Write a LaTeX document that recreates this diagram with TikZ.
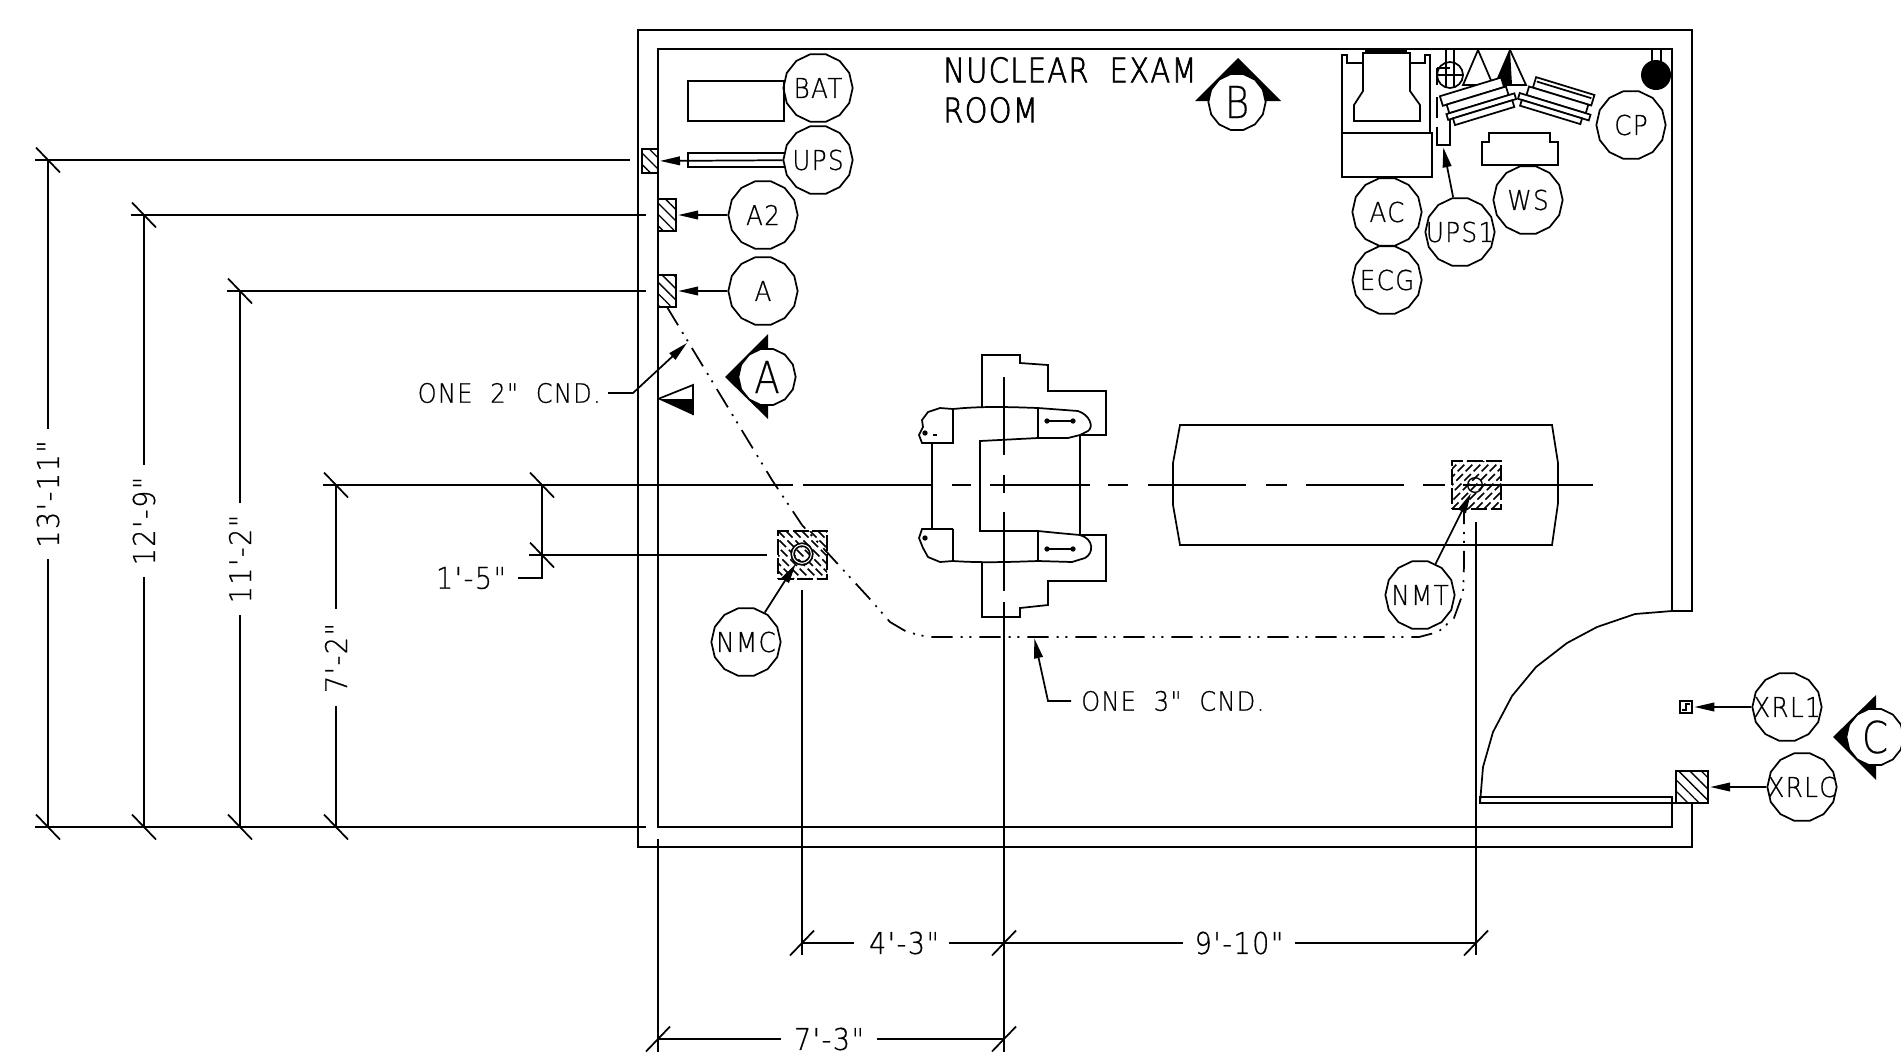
\documentclass[tikz,border=0pt]{standalone}
\usepackage{fontspec}
\usetikzlibrary{arrows.meta,patterns.meta,shapes.geometric}
\newfontfamily\cad{DejaVu Sans}[UprightFont=* ExtraLight,FakeStretch=0.9,FakeBold=0.6,LetterSpace=5]
\newfontfamily\cadsec{DejaVu Sans}[UprightFont=* ExtraLight,FakeStretch=0.85,FakeBold=0.3]
\newfontfamily\ttl{DejaVu Sans}[UprightFont=* ExtraLight,FakeStretch=0.85,FakeBold=2,LetterSpace=4]
\newcommand{\tg}[1]{\makebox[0pt][c]{\cad\fontsize{20.5}{20.5}\selectfont #1}}
\newcommand{\sct}[1]{\makebox[0pt][c]{\cadsec\fontsize{33}{33}\selectfont #1}}
\tikzset{
  x=0.75pt,y=-0.75pt,
  ln/.style={line width=1.3pt,line join=miter},
  tag/.style={regular polygon,regular polygon sides=14,draw,ln,minimum size=52pt,inner sep=0pt},
  sec/.style={regular polygon,regular polygon sides=14,draw,ln,fill=white,minimum size=43pt,inner sep=0pt},
  arr/.style={ln,-{Triangle[length=15pt,width=6.5pt]},shorten >=1pt},
  hbox/.style={draw,ln,inner sep=0pt,pattern={Lines[angle=-45,distance=6pt,line width=1pt]}},
  dbox/.style={draw,ln,inner sep=0pt,dash pattern=on 12pt off 2.5pt,minimum width=37pt,minimum height=36pt},
  hdash/.style={line width=1.1pt,dash pattern=on 7pt off 3pt},
  cond/.style={ln,dash pattern=on 16pt off 6pt on 1.5pt off 5pt on 1.5pt off 6pt},
  dimtext/.style={inner sep=0pt,font=\cad\fontsize{22.5}{22.5}\selectfont},
  notetext/.style={inner sep=0pt,font=\cad\fontsize{20}{20}\selectfont},
  titletext/.style={inner sep=0pt,anchor=west,font=\ttl\fontsize{25.5}{25.5}\selectfont},
  blob/.style={circle,fill,inner sep=0pt,minimum size=4pt},
}
\begin{document}
\begin{tikzpicture}
\useasboundingbox (0,0) rectangle (1901,1061);
% walls
\draw[ln] (1692,803) -- (1692,847) -- (638,847) -- (638,30) -- (1692,30) -- (1692,611) -- (1672,611) -- (1672,49) -- (658,49) -- (658,827) -- (1672,827) -- (1672,797) -- (1480,797) -- (1480,803) -- (1676,803);
% door
\draw[ln] (1480,803) -- (1483,767) -- (1493,732) -- (1512,696) -- (1536,667) -- (1567,643) -- (1597,627) -- (1635,614) -- (1672,611);
% dimension extension lines
\draw[ln] (35,160) -- (630,160);
\draw[ln] (131,215) -- (646,215);
\draw[ln] (227,291) -- (646,291);
\draw[ln] (35,827) -- (646,827);
\draw[ln] (529,555) -- (767,555);
\draw[ln] (323,485) -- (793,485) (803,485) -- (932,485);
\foreach \a/\b in {952/971,990/1090,1108/1128,1148/1246,1266/1287,1306/1404,1423/1445,1463/1593}
  \draw[ln] (\a,485) -- (\b,485);
\draw[ln] (658,839) -- (658,1052);
\draw[ln] (802,590) -- (802,955);
\draw[ln] (1476,522) -- (1476,955);
\draw[ln] (1004,377) -- (1004,455) (1004,475) -- (1004,493) (1004,512) -- (1004,591) (1004,602) -- (1004,1052);
% dimension lines left
\draw[ln] (48,160) -- (48,429) (48,559) -- (48,827);
\draw[ln] (144,215) -- (144,465) (144,577) -- (144,827);
\draw[ln] (240,291) -- (240,503) (240,615) -- (240,827);
\draw[ln] (336,485) -- (336,609) (336,706) -- (336,827);
\draw[ln] (542,485) -- (542,578) -- (518,578);
\foreach \p/\q in {48/160,48/827,144/215,144/827,240/291,240/827,336/485,336/827,542/485,542/555}
  \draw[ln] ({\p-12},{\q-12.5}) -- ({\p+12},{\q+12.5});
% dimension lines bottom
\draw[ln] (802,943) -- (854,943) (949,943) -- (1183,943) (1295,943) -- (1476,943);
\draw[ln] (658,1039) -- (781,1039) (877,1039) -- (1004,1039);
\foreach \p/\q in {802/943,1004/943,1476/943,658/1039,1004/1039}
  \draw[ln] ({\p-12},{\q+12.5}) -- ({\p+12},{\q-12.5});
% dimension texts
\node[dimtext,rotate=90] (d1) at (48,494) {13'-11"};
\node[dimtext,rotate=90] (d2) at (144,521) {12'-9"};
\node[dimtext,rotate=90] (d3) at (240,559) {11'-2"};
\node[dimtext,rotate=90] (d4) at (336,658) {7'-2"};
\node[dimtext] (d5) at (471,578) {1'-5"};
\node[dimtext] (d6) at (904,943) {4'-3"};
\node[dimtext] (d7) at (1239,943) {9'-10"};
\node[dimtext] (d8) at (829,1039) {7'-3"};
% title
\node[titletext] (t1) at (943,70) {NUCLEAR\ \ EXAM};
\node[titletext] (t2) at (943,110) {ROOM};
% notes
\node[notetext,anchor=east] (n2) at (601,393) {ONE\ \ 2"\ \ CND.};
\node[notetext,anchor=west] (n3) at (1081,701) {ONE\ \ 3"\ \ CND.};
\coordinate (tip2) at (688,342);
\coordinate (elb2) at (633,393);
\coordinate (lan2) at (608,393);
\coordinate (tip3) at (1034,637);
\coordinate (elb3) at (1048,701);
\coordinate (lan3) at (1071,701);
\draw[arr] (lan2) -- (elb2) -- (tip2);
\draw[arr] (lan3) -- (elb3) -- (tip3);
% conduit
\draw[cond] (667,307) -- (772,480) -- (802,525) -- (869,598) -- (890,622) -- (907,632) -- (928,637) -- (1419,637) -- (1438,632) -- (1454,618) -- (1463,593) -- (1464,565) -- (1464,505);
% c-arm
\draw[ln] (982,407) -- (982,355) -- (1020,355) -- (1020,363) -- (1048,365) -- (1048,391) -- (1106,391) -- (1106,435) -- (1080,435);
\draw[ln] (1080,535) -- (1106,535) -- (1106,581) -- (1048,581) -- (1048,605) -- (1020,608) -- (1020,617) -- (982,617) -- (982,563);
\draw[ln] (932,443) -- (932,529);
\draw[ln] (1080,435) -- (1080,535);
\draw[ln] (1038,438) -- (980,441) -- (980,531) -- (1038,531);
\draw[ln] (953,409) .. controls (982,406) and (1010,407) .. (1038,408) -- (1078,411) .. controls (1090,415) and (1094,427) .. (1088,431) -- (1080,435) -- (1068,438) -- (1038,438) -- (1038,408);
\draw[ln] (953,409) -- (953,443) -- (922,443) -- (919,435) -- (923,427) -- (922,420) -- (928,412) -- (940,408) -- (953,409);
\draw[ln] (1038,531) -- (1058,533) -- (1080,535) .. controls (1094,539) and (1094,553) .. (1085,558) -- (1072,562) -- (1038,561) -- (1038,531);
\draw[ln] (953,561) .. controls (982,563) and (1010,562) .. (1038,561);
\draw[ln] (953,529) -- (922,529) -- (919,538) -- (923,548) -- (928,557) -- (940,562) -- (953,561) -- (953,529);
\draw[ln] (1047,421) -- (1073,421);
\draw[ln] (1047,549) -- (1073,549);
\foreach \p/\q in {1047/421,1073/421,1047/549,1073/549,925/433,925/538}
  \node[blob] at (\p,\q) {};
\draw[ln] (933,435) -- (937,435);
% table
\draw[ln] (1180,425) -- (1552,425) -- (1558,463) -- (1558,503) -- (1552,545) -- (1180,545) -- (1173,505) -- (1173,463) -- cycle;
% left equipment
\draw[ln] (688,81) rectangle (784,121);
\draw[ln] (784,153) -- (688,153) -- (688,167) -- (784,167);
% right equipment: machine
\draw[ln] (1342,133) -- (1342,55) -- (1347,55) -- (1347,63) -- (1363,63);
\draw[ln] (1410,63) -- (1425,63) -- (1425,55) -- (1430,55) -- (1430,133);
\draw[ln] (1363,53) -- (1363,91) -- (1354,105) -- (1354,121) -- (1420,121) -- (1420,105) -- (1410,91) -- (1410,53) -- cycle;
\draw[line width=2.5pt] (1365,52) -- (1407,52);
\draw[ln] (1342,133) rectangle (1432,177);
% UPS1 unit
\draw[ln] (1446,49) -- (1446,88) (1454,49) -- (1454,88);
\draw[ln] (1450,75) circle (13);
\draw[ln] (1437,75) -- (1463,75);
\draw[ln] (1437,68) -- (1437,85) (1437,97) -- (1437,118) (1437,127) -- (1437,145) -- (1450,145) -- (1450,97);
\draw[ln] (1437,68) -- (1450,68);
\coordinate (ups1t) at (1443,146);
% triangles
\draw[ln] (1478,50) -- (1463,85) -- (1493,85) -- cycle;
\fill (1510,50) -- (1495,85) -- (1512,85) -- cycle;
\draw[ln] (1510,50) -- (1495,85) -- (1526,85) -- cycle;
% work stations
\begin{scope}[shift={(1479,101)},rotate=17]
\draw[ln,fill=white] (-36,-16) rectangle (28,-6);
\draw[ln,fill=white] (-32,-6) rectangle (30,3);
\draw[ln,fill=white] (-35,3) rectangle (36,9);
\draw[ln,fill=white] (-30,9) rectangle (32,16);
\end{scope}
\begin{scope}[shift={(1556,101)},rotate=-17]
\draw[ln,fill=white] (-26,-17) rectangle (35,-6);
\draw[ln] (-24,-13) -- (33,-13);
\draw[ln,fill=white] (-30,-6) rectangle (32,3);
\draw[ln,fill=white] (-37,3) rectangle (37,9);
\draw[ln,fill=white] (-33,9) rectangle (30,15);
\end{scope}
\draw[ln] (1482,165) -- (1482,142) -- (1489,142) -- (1489,133) -- (1550,133) -- (1550,142) -- (1558,142) -- (1558,165) -- cycle;
% black dot
\draw[ln] (1652,49) -- (1652,65) (1661,49) -- (1661,65);
\fill (1656,75) circle (15);
% hatched boxes
\node[hbox,minimum width=12pt,minimum height=18pt] (bUPS) at (650,161) {};
\node[hbox,minimum width=13.5pt,minimum height=24pt] (bA2) at (667,215) {};
\node[hbox,minimum width=13.5pt,minimum height=24pt] (bA) at (667,291) {};
\node[hbox,minimum width=24pt,minimum height=24pt] (bXRLC) at (1692,787) {};
\node[draw,fill=white,line width=1.5pt,inner sep=0pt,minimum width=9pt,minimum height=8.5pt] (bXRL1) at (1686,707) {};
\draw[line width=1.1pt] (1690,704) -- (1686,704) -- (1686,710) -- (1682,710);
% dashed hatch floor boxes
\begin{scope}
\clip (778,531) rectangle (827,579);
\foreach \s in {-48,-40,...,48}
  \draw[hdash] ({778+\s},531) -- ({826+\s},579);
\end{scope}
\begin{scope}
\clip (1452,461) rectangle (1501,509);
\foreach \s in {-48,-40,...,48}
  \draw[hdash] ({1452+\s},509) -- ({1500+\s},461);
\end{scope}
\node[dbox] (bNMC) at (802.5,555) {};
\node[dbox] (bNMT) at (1476.5,485) {};
\node[circle,draw,line width=1.3pt,double=white,double distance=0.8pt,inner sep=0pt,minimum size=14pt] (rNMC) at (802,554) {};
\node[circle,draw,line width=1pt,inner sep=0pt,minimum size=11pt] (rNMT) at (1475,485) {};
% tags
\node[tag] (BAT) at (818,88) {\tg{BAT}};
\node[tag] (UPS) at (818,160) {\tg{UPS}};
\node[tag] (A2) at (763,215) {\tg{A2}};
\node[tag] (A) at (763,291) {\tg{A}};
\node[tag] (AC) at (1387,212) {\tg{AC}};
\node[tag] (ECG) at (1387,280) {\tg{ECG}};
\node[tag] (UPSone) at (1460,232) {\tg{UPS1}};
\node[tag] (WS) at (1528,200) {\tg{WS}};
\node[tag] (CP) at (1631,125) {\tg{CP}};
\node[tag] (NMC) at (746,642) {\tg{NMC}};
\node[tag] (NMT) at (1420,595) {\tg{NMT}};
\node[tag] (XRLone) at (1787,707) {\tg{XRL1}};
\node[tag] (XRLC) at (1802,787) {\tg{XRLC}};
% connectors
\draw[arr] (UPS) -- (bUPS);
\draw[arr] (A2) -- (bA2);
\draw[arr] (A) -- (bA);
\draw[arr] (XRLone) -- (bXRL1);
\draw[arr] (XRLC) -- (bXRLC);
\draw[arr] (NMC) -- (rNMC);
\draw[arr] (NMT) -- (rNMT);
\draw[arr] (UPSone) -- (ups1t);
% section marks
\fill (725,377) -- (768,334) -- (768,419) -- cycle;
\node[sec] (secA) at (767,377) {\sct{A}};
\fill (1238,58) -- (1195,101) -- (1281,101) -- cycle;
\node[sec] (secB) at (1237,102) {\sct{B}};
\fill (1833,737) -- (1876,695) -- (1876,780) -- cycle;
\node[sec] (secC) at (1875,737) {\sct{C}};
\draw[ln] (658,399) -- (693,385) -- (693,415);
\fill (658,399) -- (693,399) -- (693,415) -- cycle;
\end{tikzpicture}
\end{document}
